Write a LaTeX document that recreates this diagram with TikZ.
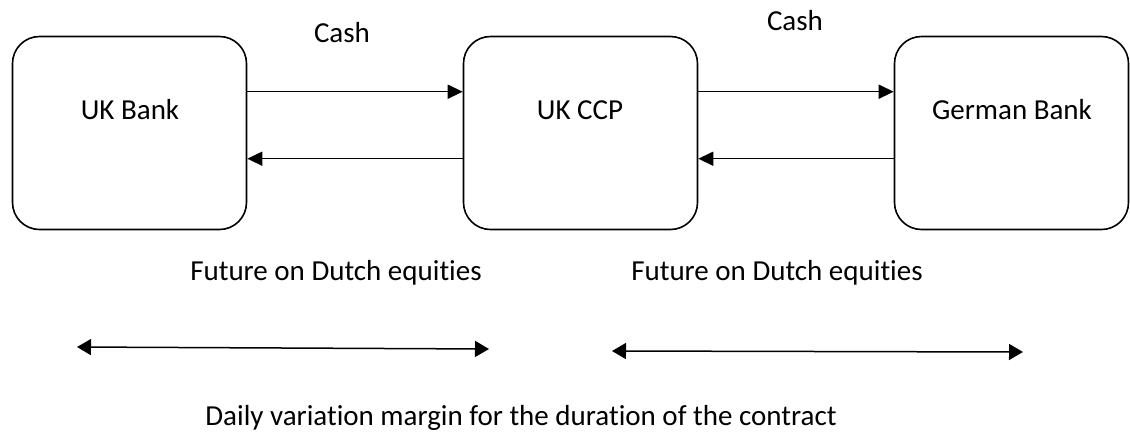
\documentclass[tikz,border=0pt]{standalone}
\usepackage{fontspec}
\setmainfont{Carlito}[Ligatures={NoCommon,NoContextual}]
\usetikzlibrary{arrows.meta}
\begin{document}
\begin{tikzpicture}[x=1pt,y=-1pt,
  party/.style={draw=black, line width=1.6pt, rounded corners=27pt,
    minimum width=234pt, minimum height=193pt, inner sep=0pt},
  lbl/.style={anchor=base, inner sep=0pt, font=\fontsize{29}{34}\selectfont},
  flow/.style={line width=1.5pt, -{Triangle[length=15pt,width=14pt]}},
  margin/.style={line width=1.5pt, {Triangle[length=14pt,width=16pt]}-{Triangle[length=14pt,width=16pt]}}]
\useasboundingbox (0,0) rectangle (1130,432);
\node[party] (ukb) at (129.5,133) {};
\node[party] (ccp) at (580.5,133) {};
\node[party] (gb)  at (1011.5,133) {};
\node[lbl] (ukbt) at (130,119) {UK Bank};
\node[lbl] (ccpt) at (580,119) {UK CCP};
\node[lbl] (gbt)  at (1012,119) {German Bank};
\node[lbl] (cash1) at (342,42) {Cash};
\node[lbl] (cash2) at (795,30) {Cash};
\node[lbl] (fut1) at (336,280) {Future on Dutch equities};
\node[lbl] (fut2) at (777,280) {Future on Dutch equities};
\node[lbl] (vm) at (521,425) {Daily variation margin for the duration of the contract};
\draw[flow] ([yshift=-56pt]ukb.north east) -- ([yshift=-56pt]ccp.north west);
\draw[flow] ([yshift=-123pt]ccp.north west) -- ([yshift=-123pt]ukb.north east);
\draw[flow] ([yshift=-56pt]ccp.north east) -- ([yshift=-56pt]gb.north west);
\draw[flow] ([yshift=-123pt]gb.north west) -- ([yshift=-123pt]ccp.north east);
\coordinate (m1a) at (77,347);
\coordinate (m1b) at (489,349);
\coordinate (m2a) at (612,351);
\coordinate (m2b) at (1023,352);
\draw[margin] (m1a) -- (m1b);
\draw[margin] (m2a) -- (m2b);
\end{tikzpicture}
\end{document}
